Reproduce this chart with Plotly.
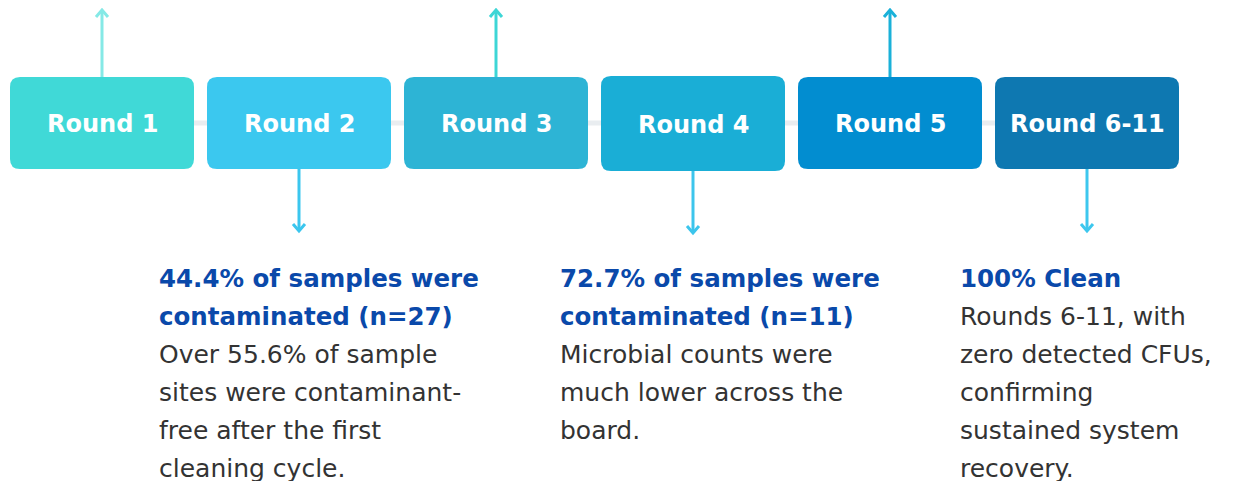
import plotly.graph_objects as go

# ---- data ----
rounds = ["Round 1", "Round 2", "Round 3", "Round 4", "Round 5", "Round 6-11"]
box_colors = ["#40d9d7", "#3bc8ef", "#2db4d5", "#1aaed6", "#028dd0", "#0e78b1"]
arrow_dirs = ["up", "down", "up", "down", "up", "down"]
arrow_colors = ["#85e9e6", "#3bc6ee", "#3dd6d6", "#3cc5ec", "#1ab1d9", "#3dc7ee"]
headings = [
    [],
    ["44.4% of samples were", "contaminated (n=27)"],
    [],
    ["72.7% of samples were", "contaminated (n=11)"],
    [],
    ["100% Clean"],
]
bodies = [
    [],
    ["Over 55.6% of sample", "sites were contaminant-", "free after the first", "cleaning cycle."],
    [],
    ["Microbial counts were", "much lower across the", "board."],
    [],
    ["Rounds 6-11, with", "zero detected CFUs,", "confirming", "sustained system", "recovery."],
]

# ---- layout constants (page pixel coordinates) ----
W, H = 1238, 481
OFF = 8  # page body margin
box_x0 = [10, 207, 404, 601, 798, 995]
box_w = 184
box_y0 = [77, 77, 77, 76, 77, 77]
box_y1 = [169, 169, 169, 171, 169, 169]
radius = 10
text_x = [0, 157, 0, 558, 0, 958]
line_y0 = 278
line_step = 38
FONT = "DejaVu Sans"

fig = go.Figure()
shapes = []
annotations = []

# connecting line
shapes.append(dict(type="line", x0=box_x0[0] + box_w, x1=box_x0[-1], y0=123, y1=123,
                   line=dict(color="#e9edf0", width=5), layer="below"))


def rrect(x0, y0, x1, y1, r):
    return (f"M {x0+r},{y0} L {x1-r},{y0} Q {x1},{y0} {x1},{y0+r} "
            f"L {x1},{y1-r} Q {x1},{y1} {x1-r},{y1} L {x0+r},{y1} "
            f"Q {x0},{y1} {x0},{y1-r} L {x0},{y0+r} Q {x0},{y0} {x0+r},{y0} Z")


for i, name in enumerate(rounds):
    x0 = box_x0[i]
    x1 = x0 + box_w
    y0, y1 = box_y0[i], box_y1[i]
    cx = (x0 + x1) / 2
    shapes.append(dict(type="path", path=rrect(x0, y0, x1, y1, radius),
                       fillcolor=box_colors[i], line=dict(width=0)))
    annotations.append(dict(x=cx, y=(y0 + y1) / 2 + 1, text=f"<b>{name}</b>",
                            showarrow=False, xanchor="center", yanchor="middle",
                            font=dict(family=FONT, size=24, color="white")))
    col = arrow_colors[i]
    if arrow_dirs[i] == "up":
        ya, yb, tip = y0, 12, 10
        head = f"M {cx-6},{tip+7} L {cx},{tip} L {cx+6},{tip+7}"
    else:
        ya, yb, tip = y1, y1 + 60, y1 + 62
        head = f"M {cx-6},{tip-7} L {cx},{tip} L {cx+6},{tip-7}"
    shapes.append(dict(type="line", x0=cx, x1=cx, y0=ya, y1=yb, line=dict(color=col, width=3)))
    shapes.append(dict(type="path", path=head, line=dict(color=col, width=3)))

    lines = [(t, True) for t in headings[i]] + [(t, False) for t in bodies[i]]
    for k, (t, bold) in enumerate(lines):
        annotations.append(dict(
            x=text_x[i], y=line_y0 + k * line_step,
            text=f"<b>{t}</b>" if bold else t, showarrow=False,
            xanchor="left", yanchor="middle",
            font=dict(family=FONT, size=24.5 if bold else 25,
                      color="#0a49aa" if bold else "#333333")))

fig.update_layout(
    width=W - OFF, height=H - OFF,
    margin=dict(l=0, r=0, t=0, b=0),
    paper_bgcolor="white", plot_bgcolor="white",
    xaxis=dict(range=[OFF, W], visible=False, fixedrange=True),
    yaxis=dict(range=[H, OFF], visible=False, fixedrange=True),
    shapes=shapes, annotations=annotations, showlegend=False,
)
fig.write_html("out.html")
